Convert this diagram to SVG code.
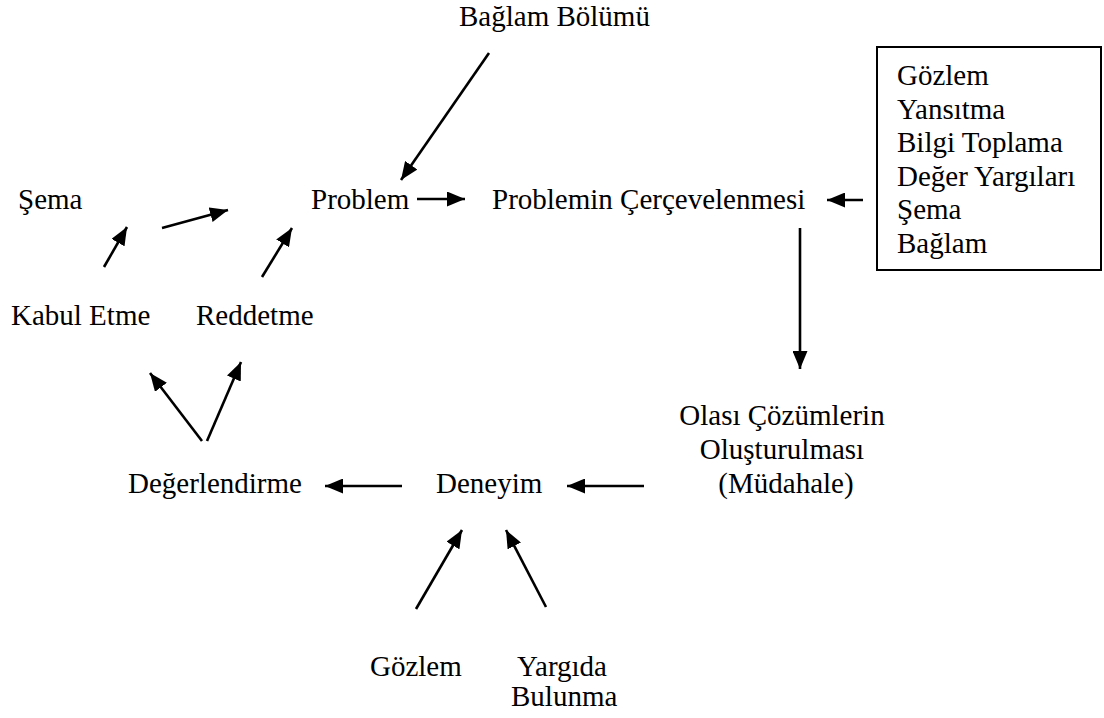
<svg xmlns="http://www.w3.org/2000/svg" width="1104" height="718" viewBox="0 0 1104 718">
<style>
text { font-family: "Liberation Serif", "Times New Roman", serif; font-size: 29px; fill: #000; }
.c line { stroke: #000; stroke-width: 2.6; marker-end: url(#ah); }
.box { fill: none; stroke: #000; stroke-width: 2; }
</style>
<defs>
<marker id="ah" markerUnits="userSpaceOnUse" markerWidth="18" markerHeight="15" refX="18" refY="7.5" orient="auto" viewBox="0 0 18 15">
<path d="M0,0 L18,7.5 L0,15 z" fill="#000"/>
</marker>
</defs>
<rect width="1104" height="718" fill="#fff"/>
<g id="baglam-bolumu"><text x="459" y="26">Bağlam Bölümü</text></g>
<g id="sema"><text x="18" y="209">Şema</text></g>
<g id="problem"><text x="311" y="209">Problem</text></g>
<g id="cerceveleme"><text x="492" y="209">Problemin Çerçevelenmesi</text></g>
<g id="kutu">
<rect class="box" x="877" y="47" width="224" height="223"/>
<text x="897" y="85">Gözlem</text>
<text x="897" y="118.5">Yansıtma</text>
<text x="897" y="152">Bilgi Toplama</text>
<text x="897" y="185.5">Değer Yargıları</text>
<text x="897" y="219">Şema</text>
<text x="897" y="252.5">Bağlam</text>
</g>
<g id="kabul"><text x="11" y="325">Kabul Etme</text></g>
<g id="reddetme"><text x="196" y="325">Reddetme</text></g>
<g id="degerlendirme"><text x="128" y="493">Değerlendirme</text></g>
<g id="deneyim"><text x="436" y="493">Deneyim</text></g>
<g id="cozumler">
<text x="782" y="425" text-anchor="middle">Olası Çözümlerin</text>
<text x="782" y="459" text-anchor="middle">Oluşturulması</text>
<text x="786" y="493" text-anchor="middle">(Müdahale)</text>
</g>
<g id="gozlem"><text x="370" y="676">Gözlem</text></g>
<g id="yargida">
<text x="517" y="676">Yargıda</text>
<text x="511" y="706">Bulunma</text>
</g>
<g class="c" id="connectors">
<line x1="489" y1="53" x2="401" y2="180"/>
<line x1="417" y1="199" x2="465" y2="199"/>
<line x1="863" y1="200" x2="827" y2="200"/>
<line x1="800" y1="228" x2="800" y2="369"/>
<line x1="644" y1="486" x2="567" y2="486"/>
<line x1="402" y1="486" x2="325" y2="486"/>
<line x1="202" y1="441" x2="150" y2="373"/>
<line x1="207" y1="441" x2="241" y2="362"/>
<line x1="104" y1="267" x2="127" y2="227"/>
<line x1="162" y1="228" x2="228" y2="210"/>
<line x1="262" y1="277" x2="292" y2="228"/>
<line x1="416" y1="609" x2="462" y2="530"/>
<line x1="546" y1="607" x2="506" y2="530"/>
</g>
</svg>
